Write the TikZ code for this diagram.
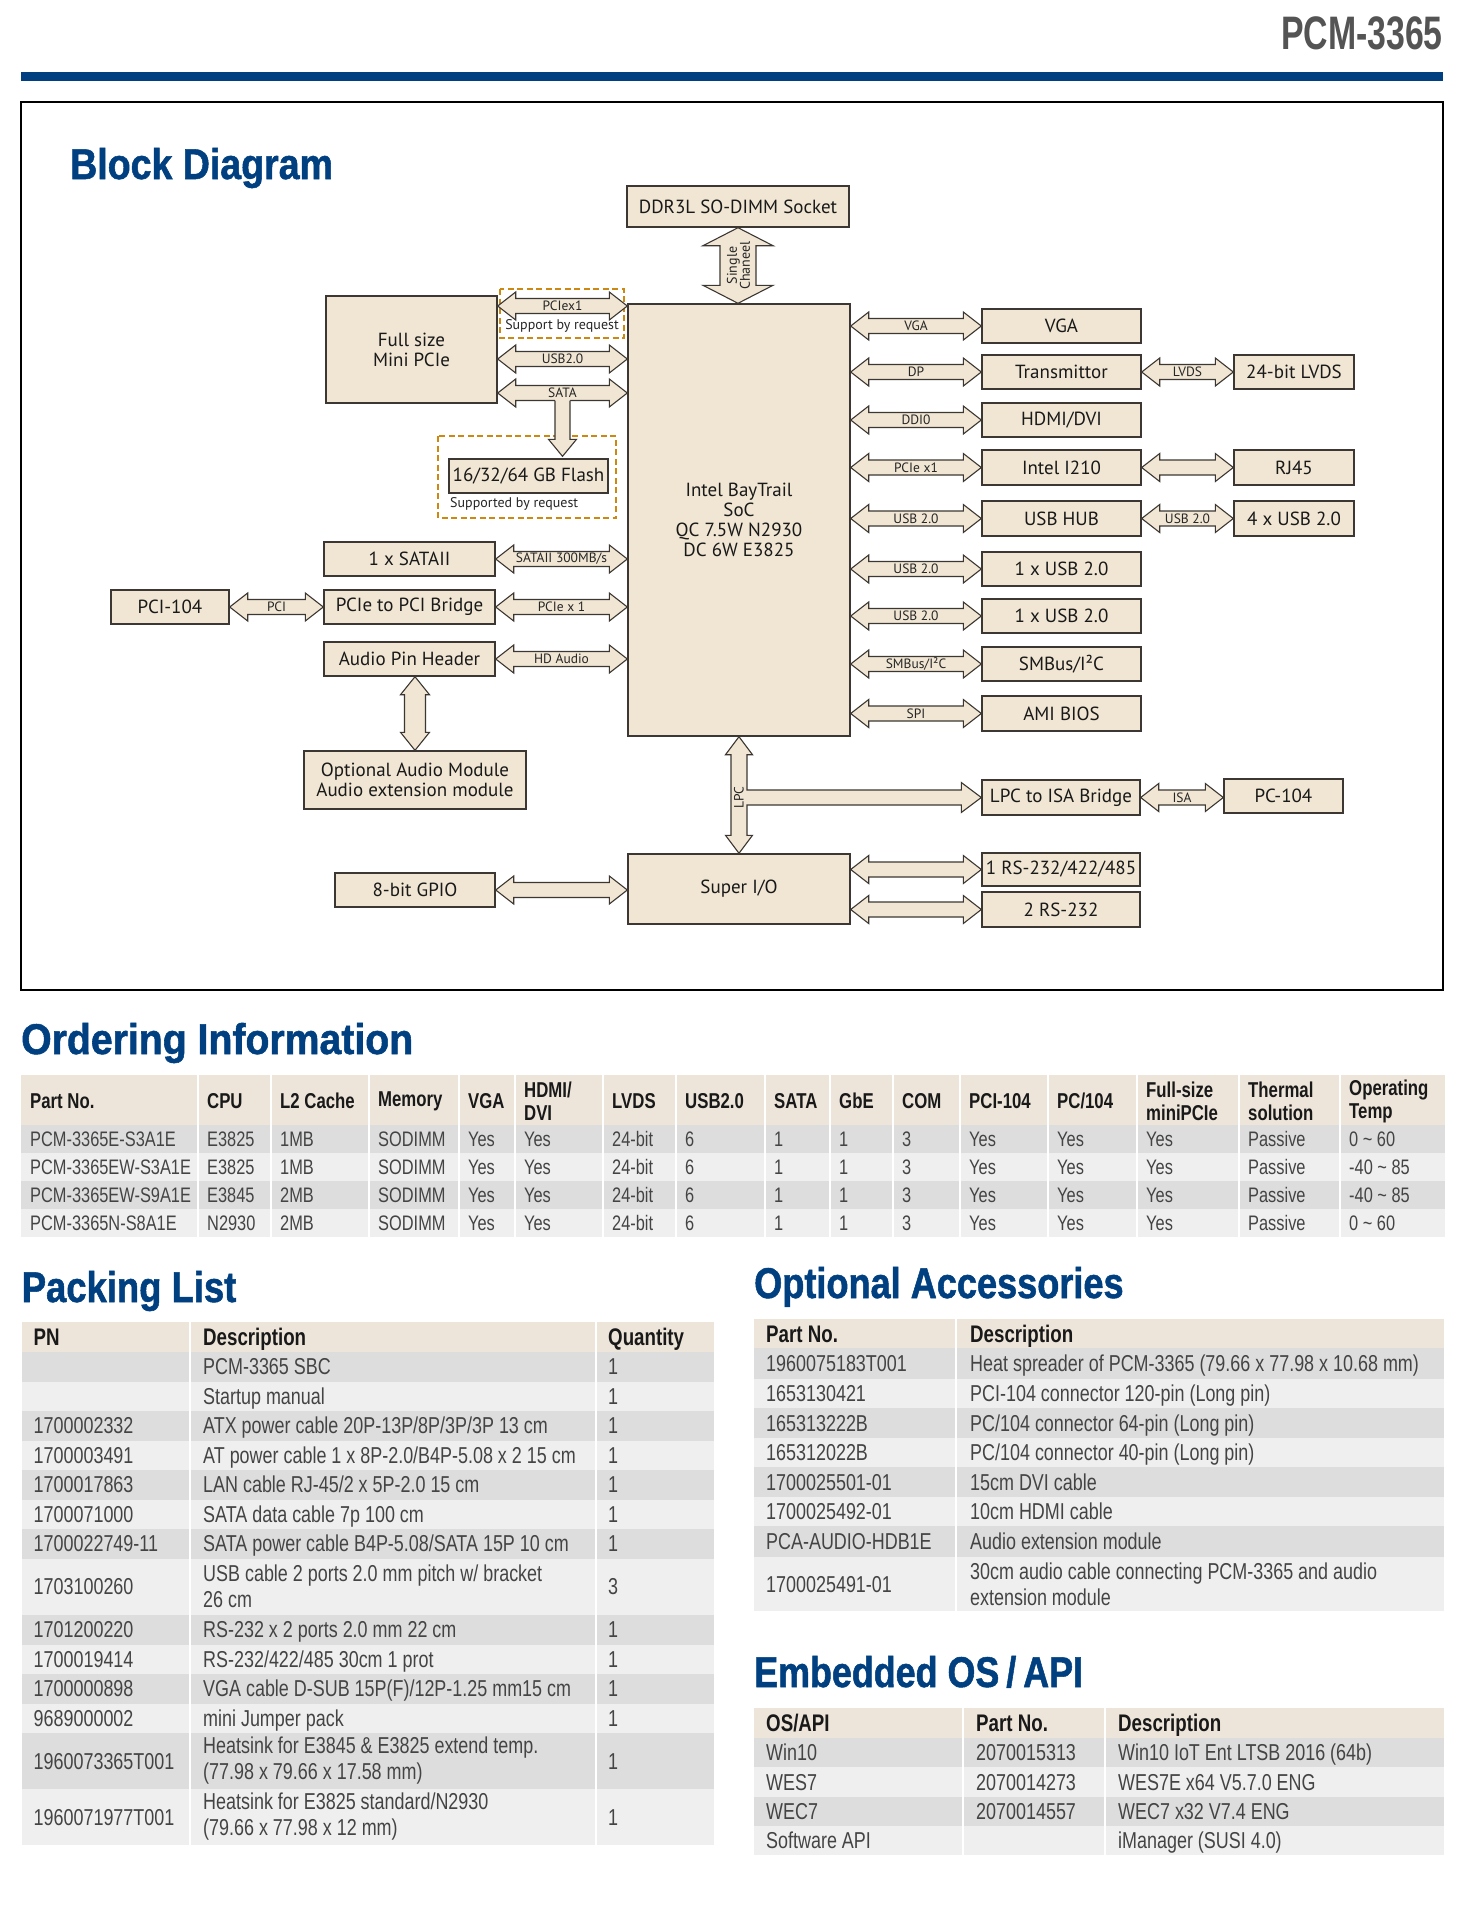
\documentclass[tikz,border=0pt]{standalone}
\usepackage{fontspec}
\usepackage{graphicx}
\setmainfont{PT Sans}
\newfontfamily\cfont[FakeStretch=0.78]{Liberation Sans}
\newfontfamily\tfont[FakeStretch=0.86,FakeBold=1.2]{Liberation Sans}
\newfontfamily\hfont[FakeStretch=0.72]{Liberation Sans}
\usetikzlibrary{calc}
\definecolor{advblue}{RGB}{0,64,128}
\definecolor{boxfill}{RGB}{240,230,211}
\definecolor{boxline}{RGB}{60,55,50}
\definecolor{dashor}{RGB}{204,136,16}
\definecolor{thead}{RGB}{237,229,218}
\definecolor{rowa}{RGB}{221,221,221}
\definecolor{rowb}{RGB}{239,239,239}
\definecolor{tgray}{RGB}{68,68,68}
\newcounter{arr}
\newcounter{cellno}
\newcommand\bx[7][]{\node[blk,#1,minimum width={(#5)-(#3)},minimum height={(#6)-(#4)}] (#2) at ({((#3)+(#5))/2},{((#4)+(#6))/2}) {#7};}
\newcommand\harrow[3]{\stepcounter{arr}%
\draw[farrow] let \p1=(#1), \p2=(#2) in (\x1,\y1) -- (\x1+18pt,\y1+14pt) -- (\x1+18pt,\y1+7.5pt) -- (\x2-18pt,\y1+7.5pt) -- (\x2-18pt,\y1+14pt) -- (\x2,\y1) -- (\x2-18pt,\y1-14pt) -- (\x2-18pt,\y1-7.5pt) -- (\x1+18pt,\y1-7.5pt) -- (\x1+18pt,\y1-14pt) -- cycle ({0.5*\x1+0.5*\x2},\y1) node[lbl] (al\arabic{arr}) {#3};}
\newcommand\varrow[4]{%
\draw[farrow] let \p1=(#1), \p2=(#2) in (\x1,\y1) -- (\x1+#4,\y1-18pt) -- (\x1+#3,\y1-18pt) -- (\x1+#3,\y2+18pt) -- (\x1+#4,\y2+18pt) -- (\x1,\y2) -- (\x1-#4,\y2+18pt) -- (\x1-#3,\y2+18pt) -- (\x1-#3,\y1-18pt) -- (\x1-#4,\y1-18pt) -- cycle;}
\newcommand\tc[4][tcell]{\stepcounter{cellno}\node[#1] (cell\arabic{cellno}) at (#2,#3) {#4};}
\newcommand\ordrow[2]{\foreach \t [count=\c] in {#2} {\pgfmathsetmacro\xx{{21,198,271,369,459,515,603,676,765,830,893,960,1048,1137,1239,1340}[\c-1]+9}\node[ocell] (o#1-\c) at (\xx,{1139+28*(#1-1)+7.5}) {\t};}}
\newcommand\prow[4]{\tc{33.5}{#1+8}{#2}\tc{203}{#1+8}{#3}\tc{608}{#1+8}{#4}}
\begin{document}
\begin{tikzpicture}[x=1pt,y=-1pt,
 blk/.style={draw=boxline, fill=boxfill, line width=1.4pt, inner sep=0pt, align=center, font=\fontsize{19}{20}\selectfont, text=black!90},
 farrow/.style={draw=boxline, fill=boxfill, line width=1.1pt, line join=miter},
 lbl/.style={inner sep=0pt, font=\fontsize{13.5}{13.5}\selectfont, text=black!85},
 dashbox/.style={draw=dashor, line width=2.2pt, dash pattern=on 6pt off 3.5pt},
 ttl/.style={anchor=base west, inner sep=0pt, font=\tfont\bfseries\fontsize{43}{43}\selectfont, text=advblue},
 tcell/.style={anchor=base west, inner sep=0pt, align=left, font=\cfont\fontsize{23}{26}\selectfont, text=tgray},
 tcellm/.style={anchor=west, inner sep=0pt, align=left, font=\cfont\fontsize{23}{26}\selectfont, text=tgray},
 thd/.style={anchor=base west, inner sep=0pt, align=left, font=\cfont\bfseries\fontsize{24}{24}\selectfont, text=black!90},
 ocell/.style={anchor=base west, inner sep=0pt, font=\cfont\fontsize{21}{22}\selectfont, text=tgray},
 ohd/.style={anchor=west, inner sep=0pt, align=left, font=\cfont\bfseries\fontsize{21.5}{23}\selectfont, text=black!90},
 ]
\fill[white] (0,0) rectangle (1476,1920);
\useasboundingbox (0,0) rectangle (1476,1920);
% header
\node[anchor=base east, inner sep=0pt, font=\hfont\bfseries\fontsize{47}{47}\selectfont, text=black!67] (model) at (1443,49) {PCM-3365};
\fill[advblue] (21,72) rectangle (1443,81);
\draw[line width=2.6pt] (21,102) rectangle (1443,990);
\node[ttl] (t1) at (70,179) {\scalebox{1.015}[1]{Block Diagram}};
% dashed boxes
\draw[dashbox] (500,289) rectangle (624,338);
\draw[dashbox] (438,436) rectangle (616,518);
\node[lbl, font=\fontsize{14}{14}\selectfont] (sbr) at (562,326) {Support by request};
\node[lbl, anchor=west, font=\fontsize{14}{14}\selectfont] (sdr) at (450,504) {Supported by request};
% boxes
\bx{ddr}{627}{186}{849}{227}{DDR3L SO-DIMM Socket}
\bx{soc}{628}{304}{850}{736}{Intel BayTrail\\SoC\\QC 7.5W N2930\\DC 6W E3825}
\bx{mpcie}{326}{296}{497}{403}{Full size\\Mini PCIe}
\bx{flash}{449}{459}{608}{493}{16/32/64 GB Flash}
\bx{sata2}{324}{542}{495}{576}{1 x SATAII}
\bx{pci104}{111}{590}{229}{624}{PCI-104}
\bx{bridge}{324}{590}{495}{624}{PCIe to PCI Bridge}
\bx{audio}{324}{642}{495}{676}{Audio Pin Header}
\bx{optaudio}{304}{751}{526}{809}{Optional Audio Module\\Audio extension module}
\bx{gpio}{335}{873}{495}{907}{8-bit GPIO}
\bx{superio}{628}{854}{850}{924}{Super I/O}
\bx{vga}{982}{309}{1141}{343}{VGA}
\bx{trans}{982}{355}{1141}{389}{Transmittor}
\bx{lvds}{1234}{355}{1354}{389}{24-bit LVDS}
\bx{hdmi}{982}{403}{1141}{437}{HDMI/DVI}
\bx{i210}{982}{450}{1141}{485}{Intel I210}
\bx{rj45}{1234}{450}{1354}{485}{RJ45}
\bx{hub}{982}{501}{1141}{536}{USB HUB}
\bx{usb4}{1234}{501}{1354}{536}{4 x USB 2.0}
\bx{usba}{982}{552}{1141}{586}{1 x USB 2.0}
\bx{usbb}{982}{599}{1141}{633}{1 x USB 2.0}
\bx{smbus}{982}{647}{1141}{681}{SMBus/I²C}
\bx{bios}{982}{696}{1141}{731}{AMI BIOS}
\bx{lpcisa}{982}{780}{1140}{815}{LPC to ISA Bridge}
\bx{pc104}{1224}{779}{1343}{813}{PC-104}
\bx{rs485}{982}{853}{1140}{886}{1 RS-232/422/485}
\bx{rs232}{982}{892}{1140}{927}{2 RS-232}
% arrow rows
\coordinate (rP) at (0,306);
\coordinate (rU) at (0,359);
\coordinate (rS) at (0,393);
\harrow{mpcie.east |- rP}{soc.west |- rP}{PCIex1}
\harrow{mpcie.east |- rU}{soc.west |- rU}{USB2.0}
\harrow{mpcie.east |- rS}{soc.west |- rS}{SATA}
\harrow{sata2.east}{soc.west |- sata2.east}{SATAII 300MB/s}
\harrow{bridge.east}{soc.west |- bridge.east}{PCIe x 1}
\harrow{audio.east}{soc.west |- audio.east}{HD Audio}
\harrow{pci104.east}{bridge.west}{PCI}
\harrow{gpio.east}{superio.west |- gpio.east}{}
\harrow{soc.east |- vga.west}{vga.west}{VGA}
\harrow{soc.east |- trans.west}{trans.west}{DP}
\harrow{soc.east |- hdmi.west}{hdmi.west}{DDI0}
\harrow{soc.east |- i210.west}{i210.west}{PCIe x1}
\harrow{soc.east |- hub.west}{hub.west}{USB 2.0}
\harrow{soc.east |- usba.west}{usba.west}{USB 2.0}
\harrow{soc.east |- usbb.west}{usbb.west}{USB 2.0}
\harrow{soc.east |- smbus.west}{smbus.west}{SMBus/I²C}
\harrow{soc.east |- bios.west}{bios.west}{SPI}
\harrow{trans.east}{lvds.west}{LVDS}
\harrow{i210.east}{rj45.west}{}
\harrow{hub.east}{usb4.west}{USB 2.0}
\harrow{lpcisa.east}{pc104.west |- lpcisa.east}{ISA}
\harrow{superio.east |- rs485.west}{rs485.west}{}
\harrow{superio.east |- rs232.west}{rs232.west}{}
% vertical arrows
\varrow{ddr.south}{soc.north}{18pt}{35pt}
\node[lbl, rotate=90, align=center, font=\fontsize{14}{13}\selectfont] (sc) at ($(ddr.south)!0.5!(soc.north)$) {Single\\Chaneel};
\varrow{optaudio.north |- audio.south}{optaudio.north}{10.5pt}{14.5pt}
% SATA down arrow to flash
\coordinate (sdn) at ($(mpcie.east |- rS)!0.5!(soc.west |- rS)$);
\fill[boxfill] let \p1=(sdn), \p2=(flash.north) in (\x1-7.5pt,\y1-6pt) -- (\x1-7.5pt,\y2+19pt) -- (\x1-14pt,\y2+19pt) -- (\x1,\y2+2pt) -- (\x1+14pt,\y2+19pt) -- (\x1+7.5pt,\y2+19pt) -- (\x1+7.5pt,\y1-6pt) -- cycle;
\draw[farrow, fill=none] let \p1=(sdn), \p2=(flash.north) in (\x1-7.5pt,\y1-7.5pt) -- (\x1-7.5pt,\y2+19pt) -- (\x1-14pt,\y2+19pt) -- (\x1,\y2+2pt) -- (\x1+14pt,\y2+19pt) -- (\x1+7.5pt,\y2+19pt) -- (\x1+7.5pt,\y1-7.5pt);
% LPC T arrow
\draw[farrow] let \p1=(soc.south), \p2=(superio.north), \p3=(lpcisa.west) in
 (\x1,\y1) -- (\x1+13.5pt,\y1-18pt) -- (\x1+8pt,\y1-18pt) -- (\x1+8pt,\y3+7.5pt) -- (\x3-20pt,\y3+7.5pt) -- (\x3-20pt,\y3+15pt) -- (\x3,\y3) -- (\x3-20pt,\y3-15pt) -- (\x3-20pt,\y3-7.5pt) -- (\x1+8pt,\y3-7.5pt) -- (\x1+8pt,\y2+18pt) -- (\x1+13.5pt,\y2+18pt) -- (\x1,\y2) -- (\x1-13.5pt,\y2+18pt) -- (\x1-8pt,\y2+18pt) -- (\x1-8pt,\y1-18pt) -- (\x1-13.5pt,\y1-18pt) -- cycle
 (\x1,\y3) node[lbl, rotate=90] (lpclbl) {LPC};
% ===== Ordering Information =====
\node[ttl] (t2) at (21,1054) {\scalebox{1.06}[1]{Ordering Information}};
\fill[thead] (21,1075) rectangle (1445,1125);
\foreach \a/\b/\c in {1125/1153/rowa,1153/1181/rowb,1181/1209/rowa,1209/1237/rowb} \fill[\c] (21,\a) rectangle (1445,\b);
\foreach \x in {198,271,369,459,515,603,676,765,830,893,960,1048,1137,1239,1340} \draw[white,line width=2pt] (\x,1075) -- (\x,1237);
\foreach \t [count=\c] in {Part No.,CPU,L2 Cache,Memory,VGA,{HDMI/\\DVI},LVDS,USB2.0,SATA,GbE,COM,PCI-104,PC/104,{Full-size\\miniPCIe},{Thermal\\solution},{Operating\\Temp}} {
 \pgfmathsetmacro\xx{{21,198,271,369,459,515,603,676,765,830,893,960,1048,1137,1239,1340}[\c-1]+9}
 \node[ohd] (oh\c) at (\xx,1101) {\t};
}
\ordrow{1}{PCM-3365E-S3A1E,E3825,1MB,SODIMM,Yes,Yes,24-bit,6,1,1,3,Yes,Yes,Yes,Passive,0 \textasciitilde{} 60}
\ordrow{2}{PCM-3365EW-S3A1E,E3825,1MB,SODIMM,Yes,Yes,24-bit,6,1,1,3,Yes,Yes,Yes,Passive,-40 \textasciitilde{} 85}
\ordrow{3}{PCM-3365EW-S9A1E,E3845,2MB,SODIMM,Yes,Yes,24-bit,6,1,1,3,Yes,Yes,Yes,Passive,-40 \textasciitilde{} 85}
\ordrow{4}{PCM-3365N-S8A1E,N2930,2MB,SODIMM,Yes,Yes,24-bit,6,1,1,3,Yes,Yes,Yes,Passive,0 \textasciitilde{} 60}
% ===== Packing List =====
\node[ttl] (t3) at (21.6,1302) {\scalebox{0.985}[1]{Packing List}};
\fill[thead] (21.6,1322) rectangle (714,1352);
\foreach \a/\b/\c in {1352/1381.5/rowa,1381.5/1411/rowb,1411/1440.5/rowa,1440.5/1470/rowb,1470/1499.5/rowa,1499.5/1529/rowb,1529/1558.5/rowa,1558.5/1615/rowb,1615/1644.5/rowa,1644.5/1674/rowb,1674/1703.5/rowa,1703.5/1733/rowb,1733/1789/rowa,1789/1845/rowb} \fill[\c] (21.6,\a) rectangle (714,\b);
\foreach \x in {190,595.5} \draw[white,line width=2pt] (\x,1322) -- (\x,1845);
\tc[thd]{33.5}{1345.5}{PN}
\tc[thd]{203}{1345.5}{Description}
\tc[thd]{608}{1345.5}{Quantity}
\prow{1366.75}{}{PCM-3365 SBC}{1}
\prow{1396.25}{}{Startup manual}{1}
\prow{1425.75}{1700002332}{ATX power cable 20P-13P/8P/3P/3P 13 cm}{1}
\prow{1455.25}{1700003491}{AT power cable 1 x 8P-2.0/B4P-5.08 x 2 15 cm}{1}
\prow{1484.75}{1700017863}{LAN cable RJ-45/2 x 5P-2.0 15 cm}{1}
\prow{1514.25}{1700071000}{SATA data cable 7p 100 cm}{1}
\prow{1543.75}{1700022749-11}{SATA power cable B4P-5.08/SATA 15P 10 cm}{1}
\tc{33.5}{1594.75}{1703100260}
\tc[tcellm]{203}{1586.75}{USB cable 2 ports 2.0 mm pitch w/ bracket\\26 cm}
\tc{608}{1594.75}{3}
\prow{1629.75}{1701200220}{RS-232 x 2 ports 2.0 mm 22 cm}{1}
\prow{1659.25}{1700019414}{RS-232/422/485 30cm 1 prot}{1}
\prow{1688.75}{1700000898}{VGA cable D-SUB 15P(F)/12P-1.25 mm15 cm}{1}
\prow{1718.25}{9689000002}{mini Jumper pack}{1}
\tc{33.5}{1769}{1960073365T001}
\tc[tcellm]{203}{1761}{Heatsink for E3845 \& E3825 extend temp.\\(77.98 x 79.66 x 17.58 mm)}
\tc{608}{1769}{1}
\tc{33.5}{1825}{1960071977T001}
\tc[tcellm]{203}{1817}{Heatsink for E3825 standard/N2930\\(79.66 x 77.98 x 12 mm)}
\tc{608}{1825}{1}
% ===== Optional Accessories =====
\node[ttl] (t4) at (754,1298) {\scalebox{0.977}[1]{Optional Accessories}};
\fill[thead] (754,1319) rectangle (1444,1348);
\foreach \a/\b/\c in {1348/1379/rowa,1379/1408/rowb,1408/1438/rowa,1438/1467/rowb,1467/1497/rowa,1497/1526/rowb,1526/1557/rowa,1557/1611/rowb} \fill[\c] (754,\a) rectangle (1444,\b);
\draw[white,line width=2pt] (956,1319) -- (956,1611);
\tc[thd]{766}{1342}{Part No.}
\tc[thd]{970}{1342}{Description}
\tc{766}{1371.5}{1960075183T001}\tc{970}{1371.5}{Heat spreader of PCM-3365 (79.66 x 77.98 x 10.68 mm)}
\tc{766}{1401.5}{1653130421}\tc{970}{1401.5}{PCI-104 connector 120-pin (Long pin)}
\tc{766}{1431}{165313222B}\tc{970}{1431}{PC/104 connector 64-pin (Long pin)}
\tc{766}{1460.5}{165312022B}\tc{970}{1460.5}{PC/104 connector 40-pin (Long pin)}
\tc{766}{1490}{1700025501-01}\tc{970}{1490}{15cm DVI cable}
\tc{766}{1519.5}{1700025492-01}\tc{970}{1519.5}{10cm HDMI cable}
\tc{766}{1549.5}{PCA-AUDIO-HDB1E}\tc{970}{1549.5}{Audio extension module}
\tc{766}{1592}{1700025491-01}\tc[tcellm]{970}{1584}{30cm audio cable connecting PCM-3365 and audio\\extension module}
% ===== Embedded OS/API =====
\node[ttl] (t5) at (754,1687) {\scalebox{0.97}[1]{Embedded OS\,/\,API}};
\fill[thead] (754,1708) rectangle (1444,1738);
\foreach \a/\b/\c in {1738/1767/rowa,1767/1797/rowb,1797/1826/rowa,1826/1855/rowb} \fill[\c] (754,\a) rectangle (1444,\b);
\foreach \x in {963,1105} \draw[white,line width=2pt] (\x,1708) -- (\x,1855);
\tc[thd]{766}{1731.5}{OS/API}\tc[thd]{976}{1731.5}{Part No.}\tc[thd]{1118}{1731.5}{Description}
\tc{766}{1760.5}{Win10}\tc{976}{1760.5}{2070015313}\tc{1118}{1760.5}{Win10 IoT Ent LTSB 2016 (64b)}
\tc{766}{1790}{WES7}\tc{976}{1790}{2070014273}\tc{1118}{1790}{WES7E x64 V5.7.0 ENG}
\tc{766}{1819.5}{WEC7}\tc{976}{1819.5}{2070014557}\tc{1118}{1819.5}{WEC7 x32 V7.4 ENG}
\tc{766}{1848.5}{Software API}\tc{1118}{1848.5}{iManager (SUSI 4.0)}
\end{tikzpicture}
\end{document}
